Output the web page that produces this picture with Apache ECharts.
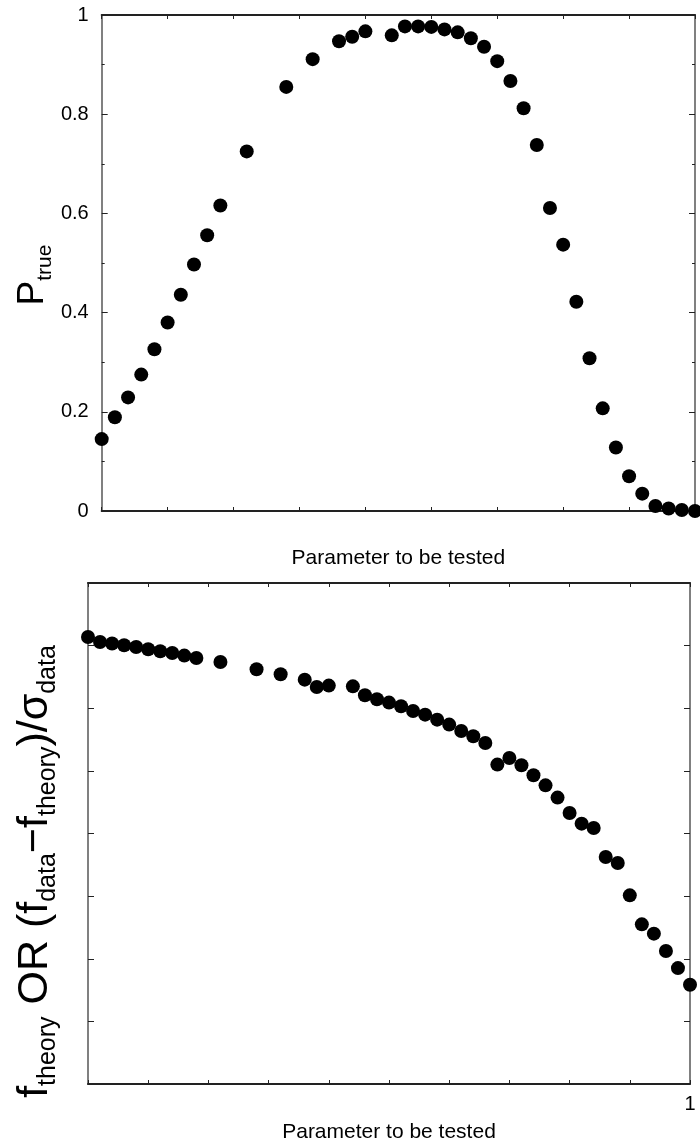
<!DOCTYPE html>
<html>
<head>
<meta charset="utf-8">
<script src="https://cdn.jsdelivr.net/npm/echarts@6/dist/echarts.min.js"></script>
<style>
html,body{margin:0;padding:0;background:#fff;}
#chart{width:700px;height:1144px;}
</style>
</head>
<body>
<div id="chart"></div>
<script>
// Top panel: P_true vs parameter
const topX = [0, 0.02, 0.04, 0.06, 0.08, 0.10, 0.12, 0.14, 0.16, 0.18, 0.22, 0.28, 0.32, 0.36, 0.38, 0.40,
  0.44, 0.46, 0.48, 0.50, 0.52, 0.54, 0.56, 0.58, 0.60, 0.62, 0.64, 0.66, 0.68, 0.70, 0.72, 0.74, 0.76, 0.78,
  0.80, 0.82, 0.84, 0.86, 0.88, 0.90];
const topY = [0.145, 0.189, 0.229, 0.275, 0.326, 0.380, 0.436, 0.497, 0.556, 0.616, 0.725, 0.855, 0.911, 0.947, 0.956, 0.967,
  0.959, 0.977, 0.977, 0.976, 0.971, 0.965, 0.953, 0.936, 0.907, 0.867, 0.812, 0.738, 0.611, 0.537, 0.422, 0.308,
  0.207, 0.128, 0.070, 0.035, 0.010, 0.005, 0.002, 0.000];
// Bottom panel: f_theory OR (f_data - f_theory)/sigma_data vs parameter
const bottomX = [0, 0.02, 0.04, 0.06, 0.08, 0.10, 0.12, 0.14, 0.16, 0.18, 0.22, 0.28, 0.32, 0.36, 0.38, 0.40,
  0.44, 0.46, 0.48, 0.50, 0.52, 0.54, 0.56, 0.58, 0.60, 0.62, 0.64, 0.66, 0.68, 0.70, 0.72, 0.74, 0.76, 0.78,
  0.80, 0.82, 0.84, 0.86, 0.88, 0.90, 0.92, 0.94, 0.96, 0.98, 1.00];
const bottomY = [7.138, 7.058, 7.033, 7.005, 6.978, 6.941, 6.909, 6.882, 6.841, 6.802, 6.739, 6.622, 6.542, 6.457, 6.339, 6.362,
  6.350, 6.207, 6.143, 6.090, 6.031, 5.956, 5.898, 5.818, 5.739, 5.637, 5.552, 5.445,
  5.100, 5.206, 5.089, 4.929, 4.769, 4.573, 4.327, 4.157, 4.087, 3.624, 3.528,
  3.012, 2.549, 2.401, 2.123, 1.851, 1.586];
const topYTicks = ['0', '0.2', '0.4', '0.6', '0.8', '1'];
const xTitle = 'Parameter to be tested';

const FONT = 'Liberation Sans, Arial, Helvetica, sans-serif';
const DARK = '#222';
const GRAY = '#808080';

function pairs(xs, ys) { return xs.map((x, i) => [x, ys[i]]); }

function xAx(gi, pos, min, max, showName, labelFmt, gap) {
  return {
    type: 'value', gridIndex: gi, position: pos, min: min, max: max, interval: 0.1,
    axisLine: { show: true, onZero: false, lineStyle: { color: DARK, width: 2 } },
    axisTick: { show: true, inside: true, length: 4, lineStyle: { color: DARK, width: 1 } },
    axisLabel: labelFmt ? { show: true, formatter: labelFmt, margin: 10, color: '#000', fontSize: 20, fontFamily: FONT, showMinLabel: true, showMaxLabel: true } : { show: false },
    splitLine: { show: false },
    name: showName ? xTitle : '',
    nameLocation: 'middle', nameGap: gap || 37,
    nameTextStyle: { color: '#000', fontSize: 21, fontFamily: FONT }
  };
}

function yAx(gi, pos, max, interval, minor) {
  const a = {
    type: 'value', gridIndex: gi, position: pos, min: 0, max: max, interval: interval,
    axisLine: { show: true, onZero: false, lineStyle: { color: GRAY, width: 2 } },
    axisTick: { show: true, inside: true, length: 6, lineStyle: { color: DARK } },
    axisLabel: { show: false }, splitLine: { show: false }
  };
  if (minor) a.minorTick = { show: true, splitNumber: 2, length: 3, lineStyle: { color: DARK } };
  return a;
}

const yTop = yAx(0, 'left', 1, 0.2, true);
yTop.axisLabel = { show: true, margin: 13, color: '#000', fontSize: 20, fontFamily: FONT,
  formatter: function (v) { return topYTicks[Math.round(v / 0.2)]; } };
yTop.name = '{m|P}{s|true}';
yTop.nameLocation = 'middle';
yTop.nameRotate = 90;
yTop.nameGap = 46;
yTop.nameMoveOverlap = false;
yTop.nameTextStyle = { color: '#000', fontFamily: FONT, padding: [0, 24, 0, 0],
  rich: { m: { fontSize: 37, fontFamily: FONT, color: '#000' },
          s: { fontSize: 21, fontFamily: FONT, color: '#000', padding: [24, 0, 0, 0] } } };

const yBot = yAx(1, 'left', 8, 1, false);
yBot.name = '{m|f}{s|theory}{m| OR (f}{s|data}{m|−f}{s|theory}{m|)/σ}{s|data}';
yBot.nameLocation = 'middle';
yBot.nameRotate = 90;
yBot.nameGap = 27;
yBot.nameMoveOverlap = false;
yBot.nameTextStyle = { color: '#000', fontFamily: FONT, padding: [0, 76, 0, 0],
  rich: { m: { fontSize: 43, fontFamily: FONT, color: '#000' },
          s: { fontSize: 25, fontFamily: FONT, color: '#000', padding: [26, 0, 0, 0] } } };

const option = {
  backgroundColor: '#fff',
  animation: false,
  grid: [
    { left: 101.7, top: 15, width: 593.3, height: 496 },
    { left: 88, top: 583, width: 602, height: 501 }
  ],
  xAxis: [
    xAx(0, 'bottom', 0, 0.9, true, null, 37),
    xAx(0, 'top', 0, 0.9, false, null),
    xAx(1, 'bottom', 0, 1, true, function (v) { return Math.abs(v - 1) < 1e-9 ? '1' : ''; }, 38),
    xAx(1, 'top', 0, 1, false, null)
  ],
  yAxis: [
    yTop,
    yAx(0, 'right', 1, 0.2, true),
    yBot,
    yAx(1, 'right', 8, 1, false)
  ],
  series: [
    { type: 'scatter', xAxisIndex: 0, yAxisIndex: 0, data: pairs(topX, topY), symbol: 'circle', symbolSize: 14,
      itemStyle: { color: '#000', opacity: 1 }, clip: false, silent: true },
    { type: 'scatter', xAxisIndex: 2, yAxisIndex: 2, data: pairs(bottomX, bottomY), symbol: 'circle', symbolSize: 14,
      itemStyle: { color: '#000', opacity: 1 }, clip: false, silent: true }
  ]
};

const chart = echarts.init(document.getElementById('chart'), null, { renderer: 'canvas' });
chart.setOption(option);
</script>
</body>
</html>
